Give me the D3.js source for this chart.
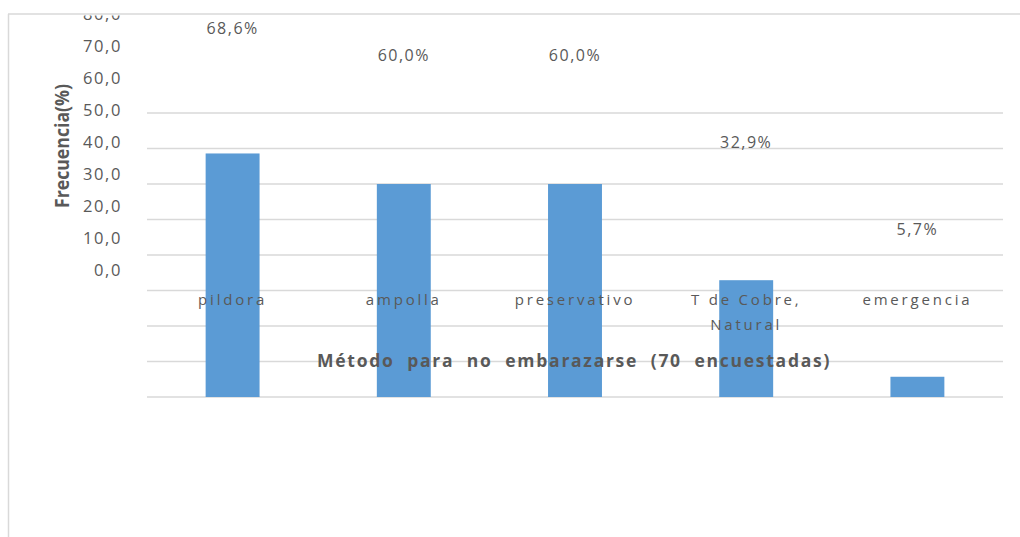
<!DOCTYPE html>
<html><head><meta charset="utf-8">
<script src="https://cdn.jsdelivr.net/npm/d3@7"></script>
<style>body{margin:0;background:#fff}svg{display:block}</style>
</head><body>
<svg id="c" width="1020" height="537"></svg>
<script>
const categories = ["pildora", "ampolla", "preservativo", "T de Cobre, Natural", "emergencia"];
const categoryLines = [["pildora"], ["ampolla"], ["preservativo"], ["T de Cobre,", "Natural"], ["emergencia"]];
const values = [68.6, 60.0, 60.0, 32.9, 5.7];
const valueLabels = ["68,6%", "60,0%", "60,0%", "32,9%", "5,7%"];
const tickValues = [0, 10, 20, 30, 40, 50, 60, 70, 80];
const tickLabels = ["0,0", "10,0", "20,0", "30,0", "40,0", "50,0", "60,0", "70,0", "80,0"];
const yTitle = "Frecuencia(%)";
const xTitle = "Método  para  no  embarazarse  (70  encuestadas)";

const svg = d3.select("#c");
const txt = "#595959", grid = "#D9D9D9", bar = "#5B9BD5";
const font = "'Open Sans', 'Noto Sans', sans-serif";

svg.append("defs").append("clipPath").attr("id", "clip")
  .append("rect").attr("x", 0).attr("y", 15.5).attr("width", 1020).attr("height", 540);

// chart border
svg.append("line").attr("x1", 8).attr("x2", 1020).attr("y1", 14).attr("y2", 14)
  .attr("stroke", grid).attr("stroke-width", 1.5);
svg.append("line").attr("x1", 8.5).attr("x2", 8.5).attr("y1", 14).attr("y2", 537)
  .attr("stroke", grid).attr("stroke-width", 1.5);

const x = d3.scaleBand().domain(categories).range([147, 1003]).paddingInner(0.685).paddingOuter(0.3425);
const y = d3.scaleLinear().domain([0, 80]).range([397, 113]);
const yText = d3.scaleLinear().domain([0, 80]).range([269.5, 13]);

// gridlines
svg.append("g").selectAll("line").data(tickValues).join("line")
  .attr("x1", 147).attr("x2", 1003)
  .attr("y1", d => y(d)).attr("y2", d => y(d))
  .attr("stroke", grid).attr("stroke-width", 1.3);

// bars
svg.append("g").selectAll("rect").data(values).join("rect")
  .attr("x", (d, i) => x(categories[i]))
  .attr("width", x.bandwidth())
  .attr("y", d => y(d))
  .attr("height", d => y(0) - y(d))
  .attr("fill", bar);

// tick labels (displaced)
svg.append("g").attr("clip-path", "url(#clip)").selectAll("text").data(tickValues).join("text")
  .attr("x", 122).attr("y", d => yText(d))
  .attr("text-anchor", "end").attr("dominant-baseline", "central")
  .attr("font-family", font).attr("font-size", 16.5).attr("letter-spacing", 1.6)
  .attr("fill", txt)
  .text((d, i) => tickLabels[i]);

// data labels (displaced)
svg.append("g").selectAll("text").data(values).join("text")
  .attr("x", (d, i) => x(categories[i]) + x.bandwidth() / 2)
  .attr("y", d => yText(d) - 22)
  .attr("text-anchor", "middle").attr("dominant-baseline", "central")
  .attr("font-family", font).attr("font-size", 16).attr("letter-spacing", 1.5)
  .attr("fill", txt)
  .text((d, i) => valueLabels[i]);

// category labels
const cg = svg.append("g");
categoryLines.forEach((lines, i) => {
  const t = cg.append("text")
    .attr("x", x(categories[i]) + x.bandwidth() / 2)
    .attr("y", 298.5)
    .attr("text-anchor", "middle").attr("dominant-baseline", "central")
    .attr("font-family", font).attr("font-size", 15).attr("letter-spacing", 2.8)
    .attr("fill", txt);
  lines.forEach((l, j) => {
    t.append("tspan").attr("x", x(categories[i]) + x.bandwidth() / 2)
      .attr("dy", j === 0 ? 0 : 25).text(l);
  });
});

// x title
svg.append("text").attr("x", 574).attr("y", 360)
  .attr("text-anchor", "middle").attr("dominant-baseline", "central")
  .attr("font-family", font).attr("font-size", 17.5).attr("font-weight", "bold")
  .attr("letter-spacing", 1.6).attr("fill", txt)
  .style("white-space", "pre")
  .attr("textLength", 514).attr("lengthAdjust", "spacing")
  .text(xTitle);

// y title (condensed)
svg.append("text")
  .attr("transform", "translate(61,146) rotate(-90)")
  .attr("text-anchor", "middle").attr("dominant-baseline", "central")
  .attr("font-family", font).attr("font-size", 20).attr("font-weight", "bold")
  .attr("textLength", 124).attr("lengthAdjust", "spacingAndGlyphs")
  .attr("fill", txt)
  .text(yTitle);
</script>
</body></html>
